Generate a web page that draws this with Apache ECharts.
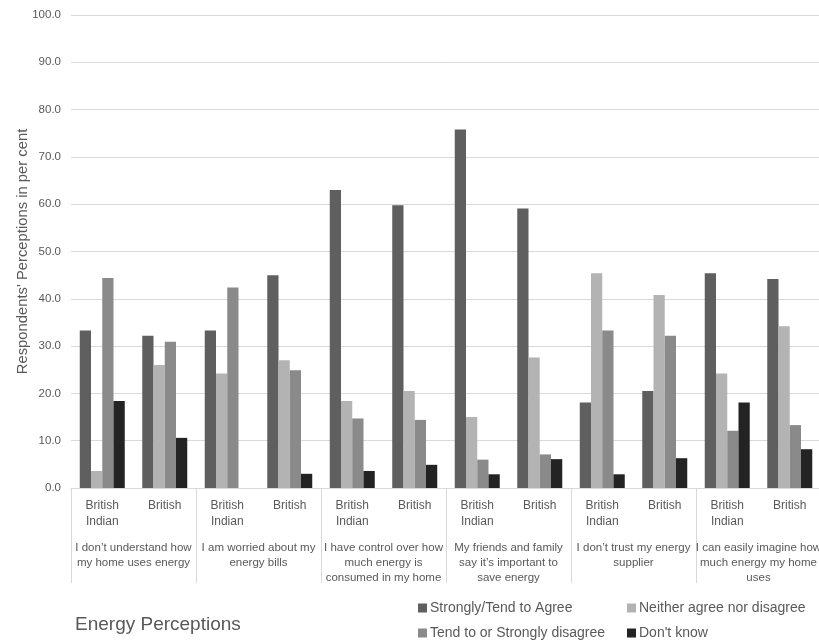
<!DOCTYPE html>
<html><head><meta charset="utf-8">
<script src="https://cdn.jsdelivr.net/npm/echarts@6/dist/echarts.min.js"></script>
<style>html,body{margin:0;padding:0;background:#fff}#c{width:819px;height:641px}</style>
</head><body><div id="c"></div>
<script>
const groups = [
  "I don’t understand how\nmy home uses energy",
  "I am worried about my\nenergy bills",
  "I have control over how\nmuch energy is\nconsumed in my home",
  "My friends and family\nsay it’s important to\nsave energy",
  "I don’t trust my energy\nsupplier",
  "I can easily imagine how\nmuch energy my home\nuses"
];
const subgroups = ["British\nIndian", "British"];
const seriesNames = ["Strongly/Tend to Agree", "Neither agree nor disagree", "Tend to or Strongly disagree", "Don't know"];
const agree    = [33.3, 32.2, 33.3, 45.0, 63.0, 59.8, 75.8, 59.1, 18.1, 20.5, 45.4, 44.2];
const neither  = [3.6, 26.0, 24.2, 27.0, 18.4, 20.5, 15.0, 27.6, 45.4, 40.8, 24.2, 34.2];
const disagree = [44.4, 30.9, 42.4, 24.9, 14.7, 14.4, 6.0, 7.1, 33.3, 32.2, 12.1, 13.3];
const dontKnow = [18.4, 10.6, 0, 3.0, 3.6, 4.9, 2.9, 6.1, 2.9, 6.3, 18.1, 8.2];
const yTicks = [0, 10, 20, 30, 40, 50, 60, 70, 80, 90, 100];

const colors = ["#5f5f5f", "#b3b3b3", "#8a8a8a", "#232323"];
const values = [agree, neither, disagree, dontKnow];
const cats = [];
groups.forEach(() => subgroups.forEach(s => cats.push(s)));
const FONT = "'Liberation Sans', 'Open Sans', sans-serif";
const txt = "#595959";

const legendPos = [[413, 596], [622, 596], [413, 621], [622, 621]];
const chart = echarts.init(document.getElementById('c'), null, {renderer: 'canvas'});
chart.setOption({
  animation: false,
  backgroundColor: '#fff',
  color: colors,
  title: {
    text: 'Energy Perceptions', left: 70, top: 610,
    textStyle: {fontFamily: FONT, fontSize: 19, fontWeight: 'normal', color: txt}
  },
  legend: seriesNames.map((n, i) => ({
    data: [n], left: legendPos[i][0], top: legendPos[i][1],
    itemWidth: 9, itemHeight: 9, itemGap: 0, icon: 'rect',
    textStyle: {fontFamily: FONT, fontSize: 14, color: txt, padding: [0, 0, 0, -2]}
  })),
  grid: {left: 71, right: -2, top: 15, bottom: 153, containLabel: false, outerBoundsMode: 'none'},
  xAxis: [
    {
      type: 'category', data: cats, position: 'bottom',
      axisLine: {show: true, lineStyle: {color: '#d9d9d9'}},
      axisTick: {show: false},
      axisLabel: {interval: 0, margin: 10, fontFamily: FONT, fontSize: 12, color: txt, lineHeight: 16}
    },
    {
      type: 'category', data: groups, position: 'bottom', offset: 0,
      axisLine: {show: false},
      axisTick: {show: true, interval: 0, length: 95, lineStyle: {color: '#d9d9d9'}},
      axisLabel: {interval: 0, margin: 52, fontFamily: FONT, fontSize: 11.5, color: txt, lineHeight: 15}
    }
  ],
  yAxis: {
    type: 'value', min: yTicks[0], max: yTicks[yTicks.length - 1], interval: 10,
    name: "Respondents' Perceptions in per cent", nameLocation: 'middle', nameGap: 41,
    nameMoveOverlap: false,
    nameTextStyle: {fontFamily: FONT, fontSize: 14.8, color: txt},
    axisLine: {show: false}, axisTick: {show: false},
    splitLine: {lineStyle: {color: '#d9d9d9'}},
    axisLabel: {margin: 10, fontFamily: FONT, fontSize: 11.5, color: txt, formatter: v => v.toFixed(1)}
  },
  series: seriesNames.map((n, i) => ({
    name: n, type: 'bar', xAxisIndex: 0, data: values[i],
    barGap: '0%', barCategoryGap: '28%',
    itemStyle: {color: colors[i]}
  }))
});
</script></body></html>
